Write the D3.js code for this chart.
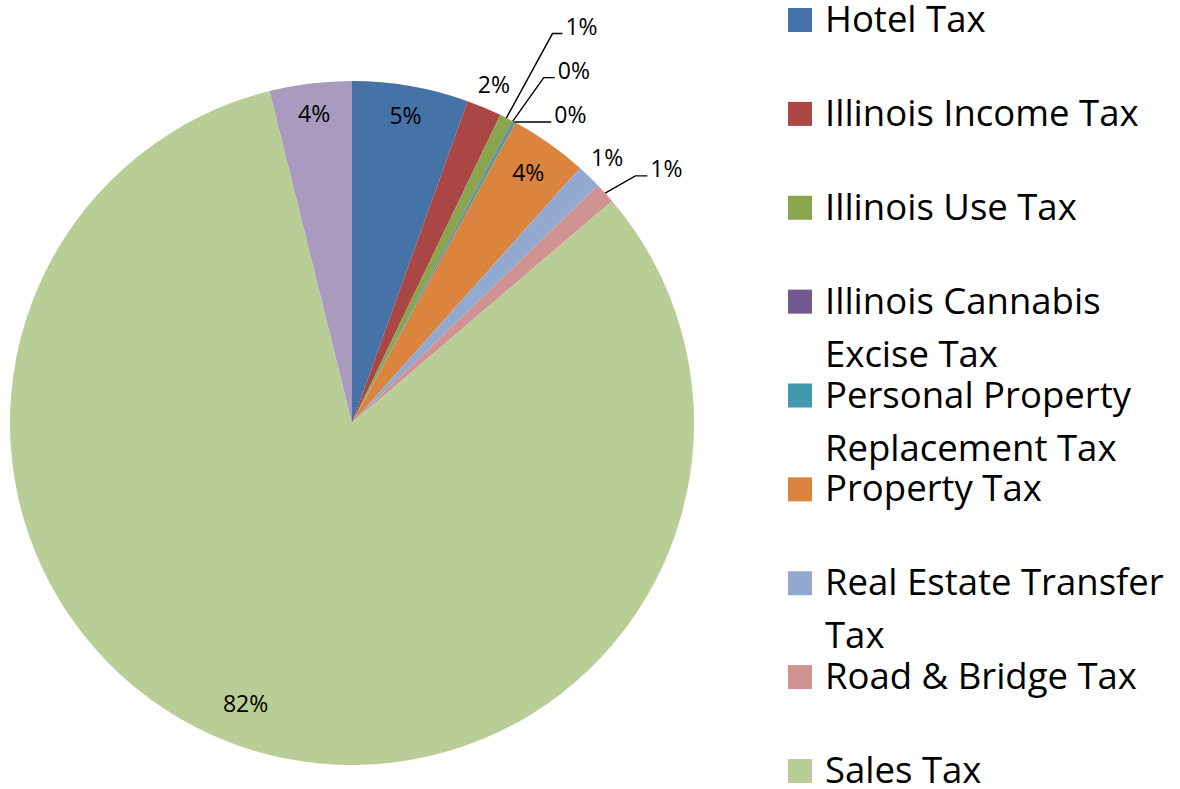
<!DOCTYPE html>
<html><head><meta charset="utf-8">
<script src="https://cdn.jsdelivr.net/npm/d3@7"></script>
<style>html,body{margin:0;padding:0;background:#fff;}svg{display:block;}</style>
</head><body>
<svg id="chart" width="1180" height="789"></svg>
<script>
// ---- data ----
const categories = ["Hotel Tax","Illinois Income Tax","Illinois Use Tax","Illinois Cannabis Excise Tax",
  "Personal Property Replacement Tax","Property Tax","Real Estate Transfer Tax","Road & Bridge Tax","Sales Tax","Other Tax"];
const shares = [5.49, 1.65, 0.63, 0.04, 0.12, 3.68, 1.17, 0.97, 82.38, 3.87];
const colors = ["#4572A7","#AA4643","#89A54E","#71588F","#4198AF","#DB843D","#93A9CF","#D19392","#B9CD96","#A99BBD"];
const legendCount = 9; // last entry is cut off in the original legend

// ---- label layout (style only) ----
const labelLayout = [
  {type:"in", r:312},
  {type:"out", r:367},
  {type:"lead", elbowR:438, elbowDa:0.4, hLen:10},
  {type:"lead", elbowR:395, elbowDa:1.0, hLen:11},
  {type:"lead", elbowR:342, elbowDa:0, hLen:37},
  {type:"in", r:306},
  {type:"out", r:368},
  {type:"lead", elbowR:376, elbowDa:1.15, hLen:12},
  {type:"in", r:300, da:3},
  {type:"in", r:312}
];

const svg = d3.select("#chart");
const cx = 352, cy = 423, R = 342;
const total = d3.sum(shares);
const fmt = d3.format(".0%");
const FONT = "'Open Sans', Lato, sans-serif";

const pie = d3.pie().sort(null).value(d => d);
const arcs = pie(shares);
const arc = d3.arc().innerRadius(0).outerRadius(R);

const g = svg.append("g").attr("transform", `translate(${cx},${cy})`);
g.selectAll("path.slice").data(arcs).enter().append("path")
  .attr("class","slice")
  .attr("d", arc)
  .attr("fill", (d,i) => colors[i]);

function pt(angle, r){ return [r*Math.sin(angle), -r*Math.cos(angle)]; }
const rad = d3.scaleLinear().domain([0,360]).range([0, 2*Math.PI]);

arcs.forEach((a,i) => {
  const L = labelLayout[i];
  const mid = (a.startAngle + a.endAngle)/2;
  const txt = fmt(shares[i]/total);
  if (L.type === "in" || L.type === "out") {
    const p = pt(mid + rad(L.da || 0), L.r);
    g.append("text").attr("x", p[0]).attr("y", p[1]).attr("dy","0.36em")
      .attr("text-anchor","middle").attr("font-family",FONT).attr("font-size",23)
      .attr("fill","#000").text(txt);
  } else {
    const p0 = pt(mid, R);
    const p1 = pt(mid + rad(L.elbowDa), L.elbowR);
    const p2 = [p1[0] + L.hLen, p1[1]];
    g.append("polyline").attr("points",[p0,p1,p2].map(p=>p.join(",")).join(" "))
      .attr("fill","none").attr("stroke","#000").attr("stroke-width",1.4);
    g.append("text").attr("x", p2[0] + 3).attr("y", p2[1] + 1)
      .attr("text-anchor","start").attr("font-family",FONT).attr("font-size",23)
      .attr("fill","#000").text(txt);
  }
});

// ---- legend ----
const legend = svg.append("g");
const legY = d3.scaleLinear().domain([0, 8]).range([32, 783]);
const maxW = 360;
for (let i = 0; i < legendCount; i++) {
  const y = legY(i);
  legend.append("rect").attr("x",788).attr("y",y-24).attr("width",24).attr("height",24).attr("fill",colors[i]);
  const t = legend.append("text").attr("x",825).attr("y",y)
    .attr("font-family",FONT).attr("font-size",36.5).attr("fill","#000");
  const words = categories[i].split(" ");
  let line = [], lineNo = 0;
  let ts = t.append("tspan").attr("x",825).attr("y",y);
  words.forEach(w => {
    line.push(w);
    ts.text(line.join(" "));
    if (ts.node().getComputedTextLength() > maxW && line.length > 1) {
      line.pop(); ts.text(line.join(" "));
      line = [w]; lineNo++;
      ts = t.append("tspan").attr("x",825).attr("y",y + lineNo*53).text(w);
    }
  });
}
</script>
</body></html>
